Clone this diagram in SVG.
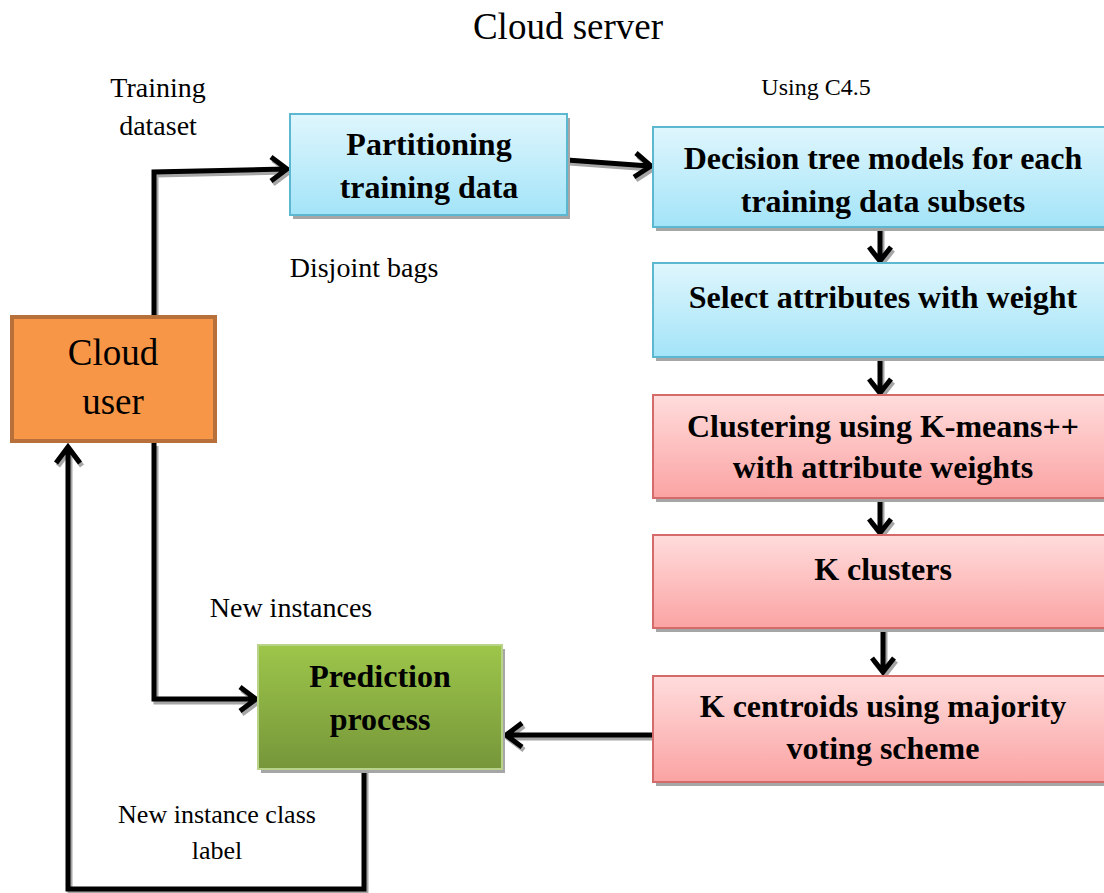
<svg xmlns="http://www.w3.org/2000/svg" width="1104" height="893" viewBox="0 0 1104 893">
  <defs>
    <linearGradient id="gBlue" x1="0" y1="0" x2="0" y2="1">
      <stop offset="0" stop-color="#DFF6FD"/>
      <stop offset="1" stop-color="#A3E4F8"/>
    </linearGradient>
    <linearGradient id="gRed" x1="0" y1="0" x2="0" y2="1">
      <stop offset="0" stop-color="#FFDCDC"/>
      <stop offset="1" stop-color="#FBA3A3"/>
    </linearGradient>
    <linearGradient id="gGreen" x1="0" y1="0" x2="0" y2="1">
      <stop offset="0" stop-color="#9DC64A"/>
      <stop offset="1" stop-color="#76963A"/>
    </linearGradient>
  </defs>
  <style>
    .shadow { fill: #A6A6A6; }
    .blue { fill: url(#gBlue); stroke: #5BB8D0; stroke-width: 2; }
    .red { fill: url(#gRed); stroke: #D46A6A; stroke-width: 2; }
    .green { fill: url(#gGreen); stroke: #B9D48A; stroke-width: 2; }
    .orange { fill: #F79646; stroke: #B8703A; stroke-width: 4; }
    .bold { font-family: "Liberation Serif", "Times New Roman", serif; font-weight: bold; font-size: 32px; fill: #000; text-anchor: middle; }
    .plain { font-family: "Liberation Serif", "Times New Roman", serif; font-size: 28px; fill: #000; text-anchor: middle; }
    .conn { fill: none; stroke-width: 5; stroke-linejoin: miter; stroke-linecap: butt; }
  </style>

  <rect width="1104" height="893" fill="#FFFFFF"/>

  <!-- free labels -->
  <g id="labels">
    <text class="plain" x="568" y="39" style="font-size:37px">Cloud server</text>
    <text class="plain" x="158" y="97">Training</text>
    <text class="plain" x="158" y="135">dataset</text>
    <text class="plain" x="816" y="95" style="font-size:24px">Using C4.5</text>
    <text class="plain" x="364" y="277">Disjoint bags</text>
    <text class="plain" x="291" y="617">New instances</text>
    <text class="plain" x="217" y="823" style="font-size:26px">New instance class</text>
    <text class="plain" x="217" y="859" style="font-size:26px">label</text>
  </g>

  <!-- connectors: grey drop shadow first, then black strokes -->
  <g id="connectors">
    <g class="conn" stroke="#A6A6A6" transform="translate(2,3)">
      <path d="M154,318 V172 L285,169 M271,157 L287,169 L271,181"/>
      <path d="M567,160 L649,166 M636,153 L651,166 L634,177"/>
      <path d="M880,227 V259 M869,247 L880,261 L891,247"/>
      <path d="M880,357 V391 M869,379 L880,393 L891,379"/>
      <path d="M880,498 V531 M869,519 L880,533 L891,519"/>
      <path d="M883,628 V670 M872,658 L883,672 L894,658"/>
      <path d="M653,735 H508 M522,723 L506,735 L522,747"/>
      <path d="M154,443 V699 H254 M240,687 L256,699 L240,711"/>
      <path d="M364,769 V889 H68 V449 M56,463 L68,447 L80,463"/>
    </g>
    <g class="conn" stroke="#000000">
      <path d="M154,318 V172 L285,169 M271,157 L287,169 L271,181"/>
      <path d="M567,160 L649,166 M636,153 L651,166 L634,177"/>
      <path d="M880,227 V259 M869,247 L880,261 L891,247"/>
      <path d="M880,357 V391 M869,379 L880,393 L891,379"/>
      <path d="M880,498 V531 M869,519 L880,533 L891,519"/>
      <path d="M883,628 V670 M872,658 L883,672 L894,658"/>
      <path d="M653,735 H508 M522,723 L506,735 L522,747"/>
      <path d="M154,443 V699 H254 M240,687 L256,699 L240,711"/>
      <path d="M364,769 V889 H68 V449 M56,463 L68,447 L80,463"/>
    </g>
  </g>

  <g id="cloud-user">
    <rect class="orange" x="12" y="317" width="203" height="124"/>
    <text class="plain" x="113" y="365" style="font-size:37px">Cloud</text>
    <text class="plain" x="113" y="414" style="font-size:37px">user</text>
  </g>

  <g id="partitioning">
    <rect class="shadow" x="293" y="118" width="277" height="101"/>
    <rect class="blue" x="290" y="114" width="277" height="101"/>
    <text class="bold" x="429" y="155">Partitioning</text>
    <text class="bold" x="429" y="198">training data</text>
  </g>

  <g id="decision-tree">
    <rect class="shadow" x="656" y="131" width="460" height="100"/>
    <rect class="blue" x="653" y="127" width="460" height="100"/>
    <text class="bold" x="883" y="169">Decision tree models for each</text>
    <text class="bold" x="883" y="212">training data subsets</text>
  </g>

  <g id="select-attributes">
    <rect class="shadow" x="656" y="267" width="460" height="94"/>
    <rect class="blue" x="653" y="263" width="460" height="94"/>
    <text class="bold" x="883" y="308">Select attributes with weight</text>
  </g>

  <g id="clustering">
    <rect class="shadow" x="656" y="399" width="460" height="103"/>
    <rect class="red" x="653" y="395" width="460" height="103"/>
    <text class="bold" x="883" y="437">Clustering using K-means++</text>
    <text class="bold" x="883" y="478">with attribute weights</text>
  </g>

  <g id="k-clusters">
    <rect class="shadow" x="656" y="539" width="460" height="93"/>
    <rect class="red" x="653" y="535" width="460" height="93"/>
    <text class="bold" x="883" y="580">K clusters</text>
  </g>

  <g id="k-centroids">
    <rect class="shadow" x="656" y="680" width="460" height="106"/>
    <rect class="red" x="653" y="676" width="460" height="106"/>
    <text class="bold" x="883" y="717">K centroids using majority</text>
    <text class="bold" x="883" y="759">voting scheme</text>
  </g>

  <g id="prediction">
    <rect class="shadow" x="261" y="649" width="244" height="124"/>
    <rect class="green" x="258" y="645" width="244" height="124"/>
    <text class="bold" x="380" y="687">Prediction</text>
    <text class="bold" x="380" y="730">process</text>
  </g>
</svg>
